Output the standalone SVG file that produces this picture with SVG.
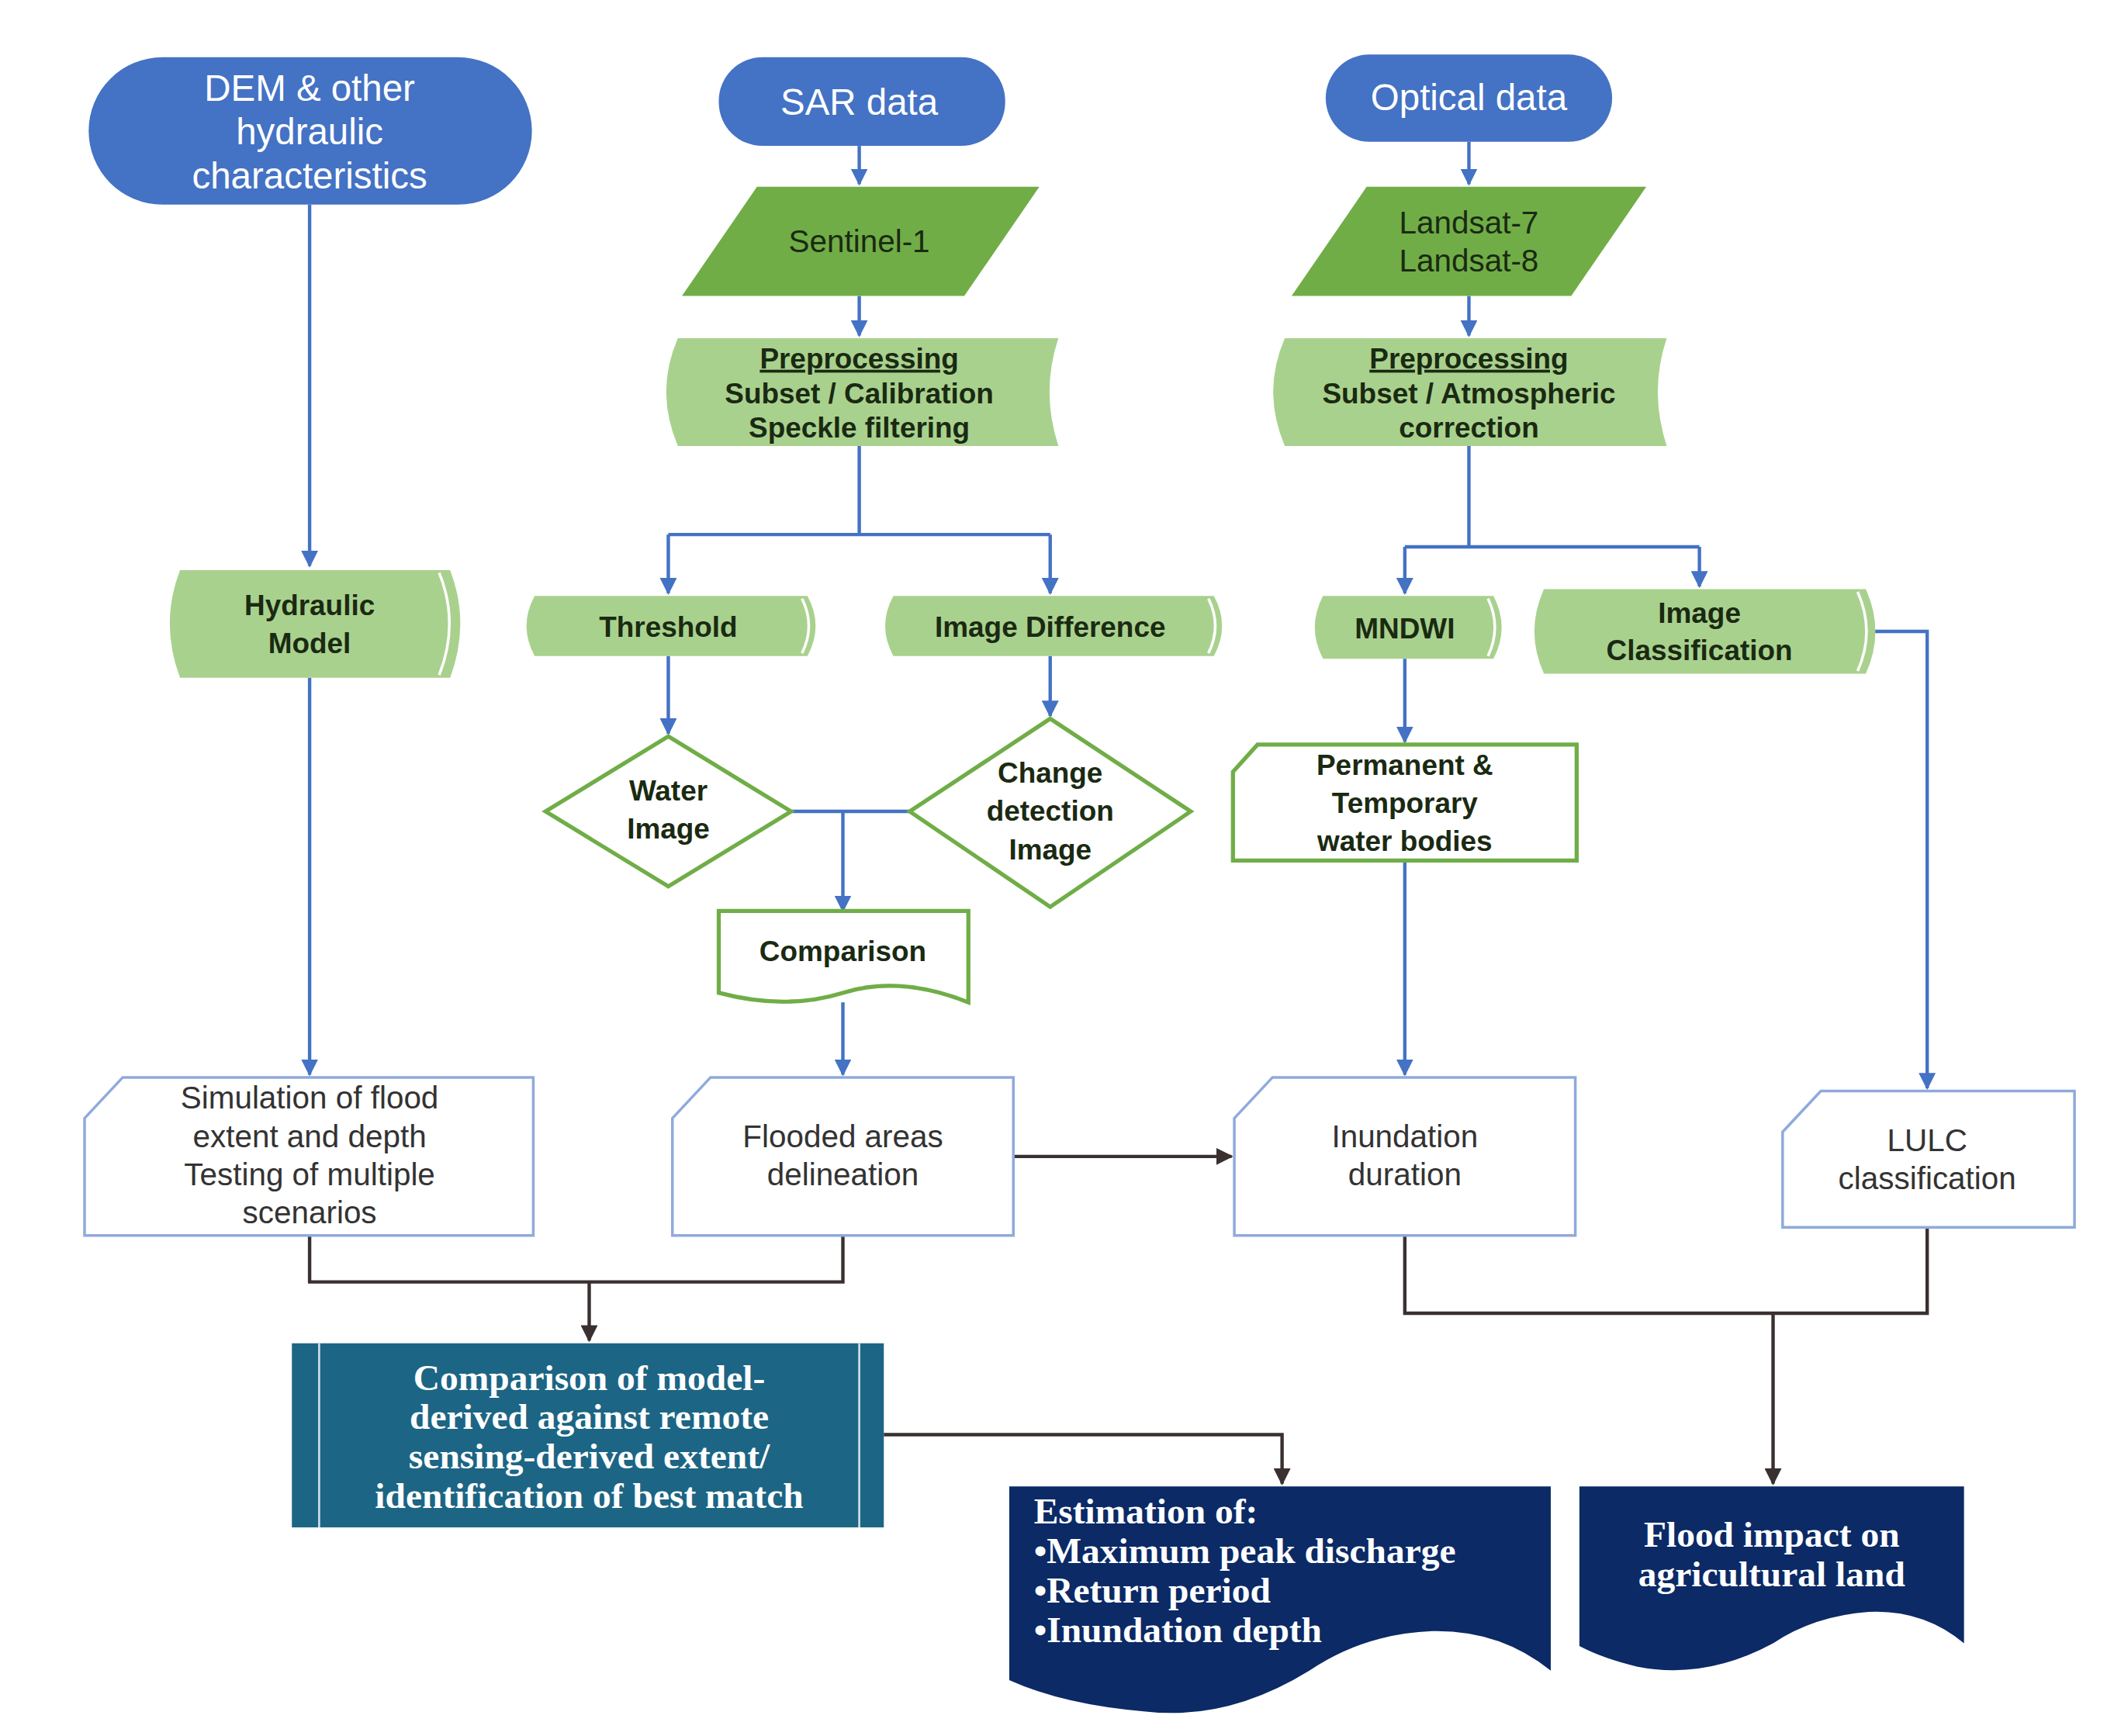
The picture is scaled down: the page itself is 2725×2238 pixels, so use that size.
<svg xmlns="http://www.w3.org/2000/svg" width="2725" height="2238" viewBox="0 0 2725 2238">
<defs>
<marker id="ab" viewBox="0 0 10 10" refX="9" refY="5" markerWidth="5" markerHeight="5" orient="auto"><path d="M0,0L10,5L0,10z" fill="#4472C4"/></marker>
<marker id="ak" viewBox="0 0 10 10" refX="9" refY="5" markerWidth="5" markerHeight="5" orient="auto"><path d="M0,0L10,5L0,10z" fill="#3a3030"/></marker>
<style>
.term{fill:#4472C4}
.tw{font-family:"Liberation Sans",Arial,sans-serif;fill:#fff;font-size:27px;text-anchor:middle}
.tg{font-family:"Liberation Sans",Arial,sans-serif;fill:#1a2a12;font-size:21px;font-weight:bold;text-anchor:middle}
.tn{font-family:"Liberation Sans",Arial,sans-serif;fill:#1a2a12;font-size:23px;text-anchor:middle}
.tb{font-family:"Liberation Sans",Arial,sans-serif;fill:#333;font-size:23px;text-anchor:middle}
.ts{font-family:"Liberation Serif","Times New Roman",serif;fill:#fff;font-size:27px;font-weight:bold}
.dg{fill:#70AD47}
.lg{fill:#A9D18E}
.ow{fill:#fff;stroke:#70AD47;stroke-width:3}
.bw{fill:#fff;stroke:#8FAADC;stroke-width:2}
.cb{fill:none;stroke:#4472C4;stroke-width:2.5}
.ck{fill:none;stroke:#3a3030;stroke-width:2.5}
</style>
</defs>
<rect width="2725" height="2238" fill="#fff"/>
<g transform="scale(1.7581)">
<g id="connectors">
<path class="cb" marker-end="url(#ab)" d="M227,150V415"/>
<path class="cb" marker-end="url(#ab)" d="M630,107V135"/>
<path class="cb" marker-end="url(#ab)" d="M630,217V246"/>
<path class="cb" d="M630,327V392M490,392H770"/>
<path class="cb" marker-end="url(#ab)" d="M490,392V435"/>
<path class="cb" marker-end="url(#ab)" d="M770,392V435"/>
<path class="cb" marker-end="url(#ab)" d="M1077,104V135"/>
<path class="cb" marker-end="url(#ab)" d="M1077,217V246"/>
<path class="cb" d="M1077,327V401M1030,401H1246"/>
<path class="cb" marker-end="url(#ab)" d="M1030,401V435"/>
<path class="cb" marker-end="url(#ab)" d="M1246,401V430"/>
<path class="cb" marker-end="url(#ab)" d="M490,481V538"/>
<path class="cb" marker-end="url(#ab)" d="M770,481V525"/>
<path class="cb" d="M580,595H667"/>
<path class="cb" stroke-width="3.5" marker-end="url(#ab)" d="M618,595V668"/>
<path class="cb" marker-end="url(#ab)" d="M618,735V788"/>
<path class="cb" marker-end="url(#ab)" d="M227,497V788"/>
<path class="cb" marker-end="url(#ab)" d="M1030,483V544"/>
<path class="cb" marker-end="url(#ab)" d="M1030,631V788"/>
<path class="cb" marker-end="url(#ab)" d="M1368,463H1413V798"/>
<path class="ck" marker-end="url(#ak)" d="M743,848H903"/>
<path class="ck" d="M227,906V940H618V906"/>
<path class="ck" marker-end="url(#ak)" d="M432,940V983"/>
<path class="ck" d="M1030,906V963H1413V900"/>
<path class="ck" marker-end="url(#ak)" d="M1300,963V1088"/>
<path class="ck" marker-end="url(#ak)" d="M648,1052H940V1088"/>
</g>
<g id="dem"><rect class="term" x="65" y="42" width="325" height="108" rx="54"/>
<text class="tw" x="227" y="74">DEM &amp; other</text><text class="tw" x="227" y="106">hydraulic</text><text class="tw" x="227" y="138">characteristics</text></g>
<g id="sar"><rect class="term" x="527" y="42" width="210" height="65" rx="32"/><text class="tw" x="630" y="84">SAR data</text></g>
<g id="optical"><rect class="term" x="972" y="40" width="210" height="64" rx="32"/><text class="tw" x="1077" y="81">Optical data</text></g>
<g id="sentinel"><path class="dg" d="M555,137H762L707,217H500z"/><text class="tn" x="630" y="185">Sentinel-1</text></g>
<g id="landsat"><path class="dg" d="M1002,137H1207L1152,217H947z"/><text class="tn" x="1077" y="171">Landsat-7</text><text class="tn" x="1077" y="199">Landsat-8</text></g>
<g id="prep-sar"><path class="lg" d="M497,248H776Q763,287 776,327H497Q480,287 497,248z"/>
<text class="tg" x="630" y="270" text-decoration="underline">Preprocessing</text><text class="tg" x="630" y="296">Subset / Calibration</text><text class="tg" x="630" y="321">Speckle filtering</text></g>
<g id="prep-opt"><path class="lg" d="M942,248H1222Q1209,287 1222,327H942Q925,287 942,248z"/>
<text class="tg" x="1077" y="270" text-decoration="underline">Preprocessing</text><text class="tg" x="1077" y="296">Subset / Atmospheric</text><text class="tg" x="1077" y="321">correction</text></g>
<g id="hydraulic"><path class="lg" d="M132,418H330Q345,457 330,497H132Q117,457 132,418z"/><path d="M322,420Q337,457 322,495" fill="none" stroke="#fff" stroke-width="2"/>
<text class="tg" x="227" y="451">Hydraulic</text><text class="tg" x="227" y="479">Model</text></g>
<g id="threshold"><path class="lg" d="M392,437H592Q604,459 592,481H392Q380,459 392,437z"/><path d="M588,439Q598,459 588,479" fill="none" stroke="#fff" stroke-width="2"/><text class="tg" x="490" y="467">Threshold</text></g>
<g id="imgdiff"><path class="lg" d="M655,437H890Q902,459 890,481H655Q643,459 655,437z"/><path d="M886,439Q896,459 886,479" fill="none" stroke="#fff" stroke-width="2"/><text class="tg" x="770" y="467">Image Difference</text></g>
<g id="mndwi"><path class="lg" d="M970,437H1095Q1107,460 1095,483H970Q958,460 970,437z"/><path d="M1091,439Q1101,460 1091,481" fill="none" stroke="#fff" stroke-width="2"/><text class="tg" x="1030" y="468">MNDWI</text></g>
<g id="imgclass"><path class="lg" d="M1132,432H1368Q1382,463 1368,494H1132Q1118,463 1132,432z"/><path d="M1362,434Q1375,463 1362,492" fill="none" stroke="#fff" stroke-width="2"/>
<text class="tg" x="1246" y="457">Image</text><text class="tg" x="1246" y="484">Classification</text></g>
<g id="water"><path class="ow" d="M490,540L580,595L490,650L400,595z"/><text class="tg" x="490" y="587">Water</text><text class="tg" x="490" y="615">Image</text></g>
<g id="change"><path class="ow" d="M770,527L873,595L770,665L667,595z"/><text class="tg" x="770" y="574">Change</text><text class="tg" x="770" y="602">detection</text><text class="tg" x="770" y="630">Image</text></g>
<g id="permanent"><path class="ow" d="M922,546H1156V631H904V566z"/><text class="tg" x="1030" y="568">Permanent &amp;</text><text class="tg" x="1030" y="596">Temporary</text><text class="tg" x="1030" y="624">water bodies</text></g>
<g id="comparison"><path class="ow" d="M527,668H710V735Q660,715 618,728T527,728z"/><text class="tg" x="618" y="705">Comparison</text></g>
<g id="simulation"><path class="bw" d="M90,790H391V906H62V820z"/>
<text class="tb" x="227" y="813">Simulation of flood</text><text class="tb" x="227" y="841">extent and depth</text><text class="tb" x="227" y="869">Testing of multiple</text><text class="tb" x="227" y="897">scenarios</text></g>
<g id="flooded"><path class="bw" d="M521,790H743V906H493V820z"/><text class="tb" x="618" y="841">Flooded areas</text><text class="tb" x="618" y="869">delineation</text></g>
<g id="inundation"><path class="bw" d="M933,790H1155V906H905V820z"/><text class="tb" x="1030" y="841">Inundation</text><text class="tb" x="1030" y="869">duration</text></g>
<g id="lulc"><path class="bw" d="M1335,800H1521V900H1307V830z"/><text class="tb" x="1413" y="844">LULC</text><text class="tb" x="1413" y="872">classification</text></g>
<g id="compare-model"><rect x="214" y="985" width="434" height="135" fill="#1D6584"/><path d="M234,985V1120M630,985V1120" stroke="#cfe0ea" stroke-width="1.5"/>
<text class="ts" x="432" y="1019" text-anchor="middle">Comparison of model-</text><text class="ts" x="432" y="1048" text-anchor="middle">derived against remote</text><text class="ts" x="432" y="1077" text-anchor="middle">sensing-derived  extent/</text><text class="ts" x="432" y="1106" text-anchor="middle">identification of best match</text></g>
<g id="estimation"><path d="M740,1090H1137V1225Q1100,1195 1050,1196Q1000,1198 960,1225Q900,1262 840,1255Q780,1250 740,1232z" fill="#0B2A66"/>
<text class="ts" x="758" y="1117">Estimation of:</text><text class="ts" x="758" y="1146">•Maximum peak discharge</text><text class="ts" x="758" y="1175">•Return period</text><text class="ts" x="758" y="1204">•Inundation depth</text></g>
<g id="impact"><path d="M1158,1090H1440V1205Q1410,1180 1370,1182Q1330,1185 1300,1205Q1250,1232 1200,1222Q1175,1216 1158,1207z" fill="#0B2A66"/>
<text class="ts" x="1299" y="1134" text-anchor="middle">Flood impact on</text><text class="ts" x="1299" y="1163" text-anchor="middle">agricultural land</text></g>
</g>
</svg>
